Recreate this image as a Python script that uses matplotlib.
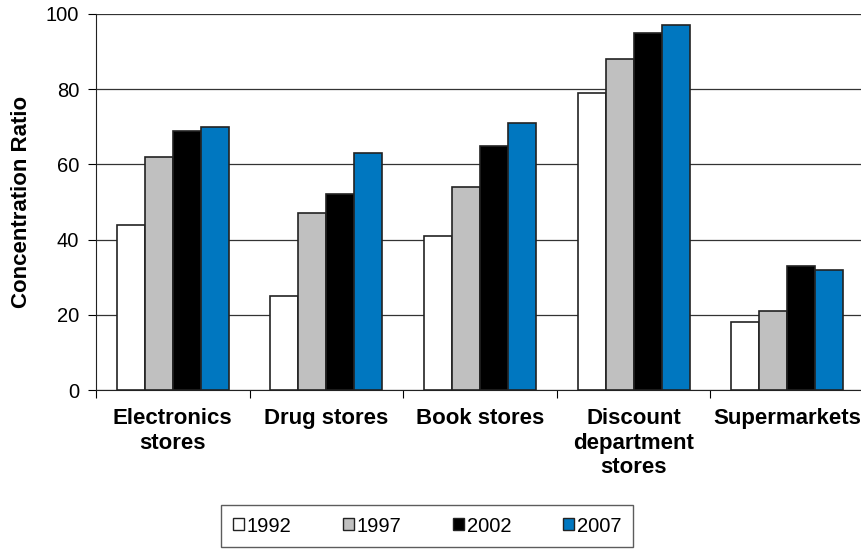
import numpy as np
import matplotlib.pyplot as plt
from matplotlib.patches import Patch

# =========================================
# DATA
# =========================================
categories = ["Electronics\nstores", "Drug stores", "Book stores",
              "Discount\ndepartment\nstores", "Supermarkets"]
years = ["1992", "1997", "2002", "2007"]
v1992 = [44, 25, 41, 79, 18]
v1997 = [62, 47, 54, 88, 21]
v2002 = [69, 52, 65, 95, 33]
v2007 = [70, 63, 71, 97, 32]

colors = ["#ffffff", "#c0c0c0", "#000000", "#0077c0"]

plt.rcParams["font.family"] = ["Liberation Sans", "DejaVu Sans"]

fig = plt.figure(figsize=(8.62, 5.52), dpi=100)
ax = fig.add_axes([96 / 862, 162 / 552, 768 / 862, 376 / 552])

x = np.arange(len(categories)) + 0.5
w = 0.1825
series = [v1992, v1997, v2002, v2007]
for i, vals in enumerate(series):
    ax.bar(x + (i - 1.5) * w, vals, width=w, color=colors[i],
           edgecolor="#222222", linewidth=1.2, zorder=3)

ax.set_xlim(0, 5)
ax.set_ylim(0, 100)
ax.set_yticks(range(0, 101, 20))
ax.tick_params(axis="y", labelsize=14.5, length=6, width=0.8, pad=6)
ax.yaxis.grid(True, color="#333333", linewidth=0.9, zorder=0)

ax.set_xticks(range(0, 6))
ax.set_xticklabels([])
ax.set_xticks(x, minor=True)
ax.set_xticklabels(categories, minor=True, fontsize=16, fontweight="bold",
                   linespacing=1.22)
ax.tick_params(axis="x", which="major", length=6, width=0.8)
ax.tick_params(axis="x", which="minor", length=0, pad=13)

for s in ["top", "right"]:
    ax.spines[s].set_visible(False)
ax.spines["left"].set_color("#222222")
ax.spines["bottom"].set_color("#222222")

ax.set_ylabel("Concentration Ratio", fontsize=16, fontweight="bold", labelpad=10)

handles = [Patch(facecolor=c, edgecolor="#222222", linewidth=1.0) for c in colors]
leg = fig.legend(handles, years, loc="center", bbox_to_anchor=(427 / 862, 26 / 552),
                 ncol=4, fontsize=14.5, frameon=True, fancybox=False,
                 edgecolor="#333333", handlelength=0.55, handleheight=0.55,
                 handletextpad=0.15, columnspacing=2.55, borderpad=0.55)
leg.get_frame().set_linewidth(1.0)

plt.savefig("out.png", dpi=100)
